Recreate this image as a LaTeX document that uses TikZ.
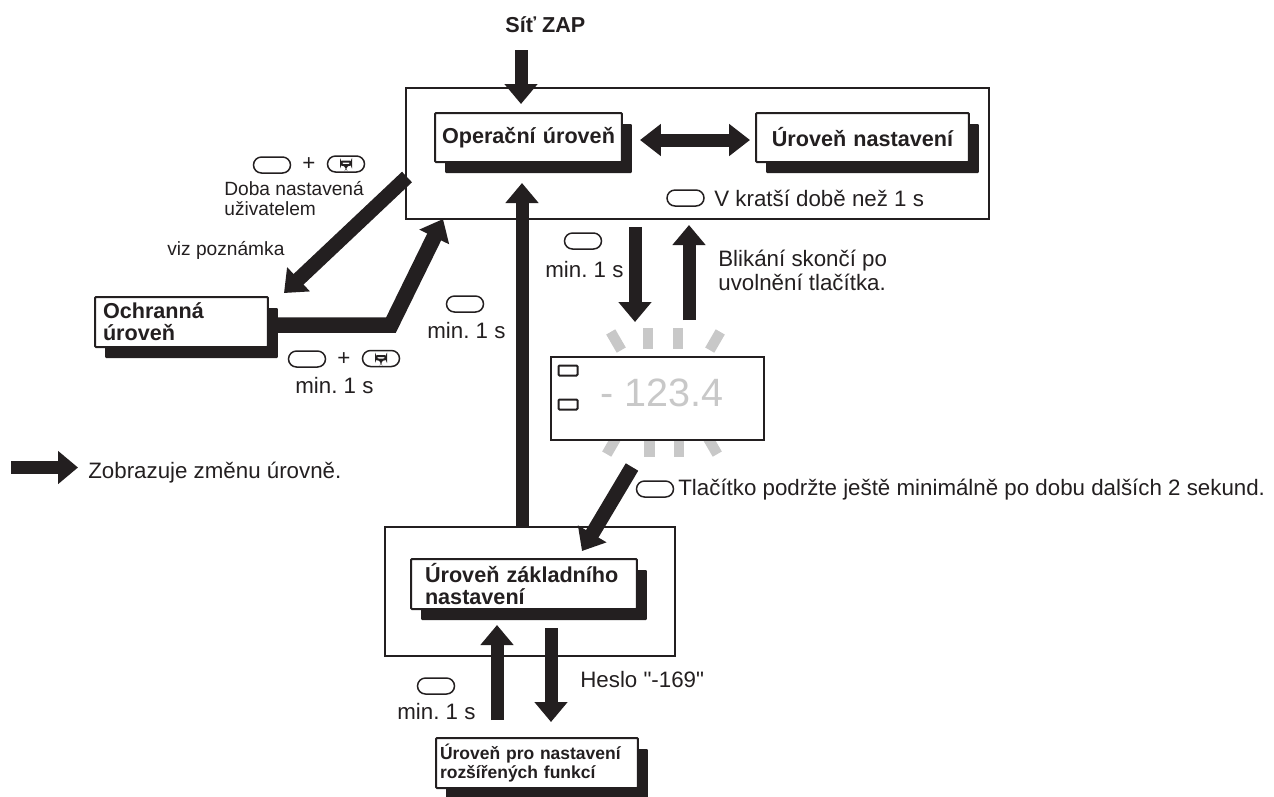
\documentclass[tikz,border=0pt]{standalone}
\usepackage{fontspec}
\setmainfont{Liberation Sans}
\newfontfamily\straightfont{Liberation Sans}
\usetikzlibrary{arrows.meta,shadows}
\definecolor{inkblack}{RGB}{35,31,32}
\definecolor{flashgray}{RGB}{200,200,200}
\tikzset{
    framebox/.style={draw=inkblack, line width=0.03cm, inner sep=0pt},
    levelbox/.style={draw=inkblack, fill=white, line width=0.04cm, rounded corners=0.02cm, inner xsep=0.1cm, inner ysep=0pt, align=left, text=inkblack, font=\fontsize{12.3}{12.4}\selectfont\bfseries, drop shadow={shadow xshift=0.2cm, shadow yshift=-0.22cm, fill=inkblack, opacity=1}},
    levelarrow/.style={draw=inkblack, line width=0.26cm, -{Triangle[length=0.4cm,width=0.64cm]}},
    bothwayarrow/.style={draw=inkblack, line width=0.26cm, {Triangle[length=0.42cm,width=0.62cm]}-{Triangle[length=0.42cm,width=0.62cm]}},
    notetext/.style={anchor=west, inner sep=0pt, align=left, text=inkblack, font=\fontsize{12.7}{14}\selectfont},
    btnkey/.style={draw=inkblack, line width=0.03cm, rounded corners=0.16cm, minimum width=0.74cm, minimum height=0.32cm, inner sep=0pt},
    loopkey/.style={btnkey, path picture={
        \draw[inkblack, line width=0.04cm, rounded corners=0.04cm, shift={(path picture bounding box.center)}] (-5,-2.5) rectangle (5,1);
        \fill[inkblack, shift={(path picture bounding box.center)}] (-3,0.5) -- (3,0.5) -- (0,5) -- cycle;}},
    flashmark/.style={fill=flashgray, minimum width=0.21cm, minimum height=0.42cm, inner sep=0pt},
    ledbox/.style={draw=inkblack, line width=0.04cm, rounded corners=0.02cm, minimum width=0.38cm, minimum height=0.2cm, inner sep=0pt}
}
\begin{document}
\frenchspacing
\begin{tikzpicture}[x=0.02cm, y=-0.02cm]
    \useasboundingbox (0,0) rectangle (1274,796);

    % frames
    \node[framebox, minimum width=11.66cm, minimum height=2.62cm] (frameTop) at (697.5,153.5) {};
    \node[framebox, line width=0.04cm, minimum width=5.8cm, minimum height=2.58cm] (frameBase) at (530,591.5) {};

    % levels
    \node[levelbox, text width=3.54cm, minimum height=0.98cm, align=center] (operLevel) at (528.5,137.5) {Operační úroveň};
    \node[levelbox, text width=4.06cm, minimum height=0.98cm, align=center] (setLevel) at (862.5,137.5) {Úroveň nastavení};
    \node[levelbox, inner xsep=0.16cm, text width=3.14cm, minimum height=1cm] (protLevel) at (181.5,322) {Ochranná\\úroveň};
    \node[levelbox, inner xsep=0.28cm, text width=3.96cm, minimum height=1cm] (baseLevel) at (524,584) {Úroveň základního\\nastavení};
    \node[levelbox, inner xsep=0.08cm, text width=3.88cm, minimum height=1cm, font=\fontsize{9.95}{10.4}\selectfont\bfseries] (extLevel) at (537,763) {Úroveň pro nastavení\\rozšířených funkcí};

    % display
    \node[flashmark, rotate=30] (flashA) at (616,341) {};
    \node[flashmark] (flashB) at (648,338) {};
    \node[flashmark] (flashC) at (678,338) {};
    \node[flashmark, rotate=-30] (flashD) at (715,341) {};
    \node[flashmark, rotate=-30] (flashE) at (612,445) {};
    \node[flashmark] (flashF) at (649.5,446) {};
    \node[flashmark] (flashG) at (679,446) {};
    \node[flashmark, rotate=30] (flashH) at (712,445) {};
    \node[draw=inkblack, fill=white, line width=0.04cm, minimum width=4.26cm, minimum height=1.66cm, inner sep=0pt] (display) at (657.5,398.5) {};
    \node[ledbox] (ledTop) at (568,370.5) {};
    \node[ledbox] (ledBottom) at (568,404.5) {};
    \node[notetext, text=flashgray, font=\fontsize{22.5}{24}\selectfont] (readout) at (600,393) {- 123.4};

    % connector ends
    \coordinate (powerStart) at (521,50);
    \coordinate (powerEnd) at (521,104);
    \coordinate (returnStart) at (522,527);
    \coordinate (returnEnd) at (522,183);
    \coordinate (protInStart) at (407,177);
    \coordinate (protInEnd) at (284,293);
    \coordinate (protOutBend) at (391,325);
    \coordinate (protOutEnd) at (443,219);
    \coordinate (holdStart) at (635,227);
    \coordinate (holdEnd) at (635,322);
    \coordinate (releaseStart) at (689,320);
    \coordinate (releaseEnd) at (689,225);
    \coordinate (baseInStart) at (632,467);
    \coordinate (baseInEnd) at (582,551);
    \coordinate (extUpStart) at (497,720);
    \coordinate (extUpEnd) at (497,625);
    \coordinate (extDownStart) at (551,628);
    \coordinate (extDownEnd) at (551,722);
    \coordinate (legendStart) at (11,467.5);
    \coordinate (legendEnd) at (78,467.5);

    % connectors
    \draw[levelarrow] (powerStart) -- (powerEnd);
    \draw[levelarrow] (returnStart) -- (returnEnd);
    \draw[bothwayarrow] ([xshift=0.34cm,yshift=-0.05cm]operLevel.east) -- ([xshift=-0.1cm,yshift=-0.05cm]setLevel.west);
    \draw[levelarrow, line width=0.29cm] (protInStart) -- (protInEnd);
    \draw[levelarrow, line width=0.31cm] ([yshift=-0.06cm]protLevel.east) -- (protOutBend) -- (protOutEnd);
    \draw[levelarrow] (holdStart) -- (holdEnd);
    \draw[levelarrow] (releaseStart) -- (releaseEnd);
    \draw[levelarrow, line width=0.29cm] (baseInStart) -- (baseInEnd);
    \draw[levelarrow] (extUpStart) -- (extUpEnd);
    \draw[levelarrow] (extDownStart) -- (extDownEnd);
    \draw[levelarrow] (legendStart) -- (legendEnd);

    % labels
    \node[notetext, font=\fontsize{12.3}{14}\selectfont\bfseries] (powerLabel) at (505,25) {Síť ZAP};
    \node[btnkey] (keyShort) at (685.5,198) {};
    \node[notetext] (shortLabel) at (714,198) {V kratší době než 1 s};

    \node[btnkey] (keyProtA) at (272,165) {};
    \node[notetext] (plusA) at (302,164) {+};
    \node[loopkey] (keyProtB) at (346,164) {};
    \node[notetext, font=\fontsize{10.9}{11}\selectfont] (userTimeLabel) at (224,198.5) {Doba nastavená\\uživatelem};
    \node[notetext, font=\fontsize{10.9}{11}\selectfont] (noteLabel) at (167,250) {viz poznámka};

    \node[btnkey] (keyProtC) at (307,359) {};
    \node[notetext] (plusB) at (337,359) {+};
    \node[loopkey] (keyProtD) at (381,358.5) {};
    \node[notetext] (protMinLabel) at (295,386) {min. 1 s};

    \node[btnkey] (keyReturn) at (465,304) {};
    \node[notetext] (returnMinLabel) at (427,331) {min. 1 s};
    \node[btnkey] (keyHold) at (583,241) {};
    \node[notetext] (holdMinLabel) at (545,270) {min. 1 s};
    \node[notetext] (releaseLabel) at (718,270.5) {Blikání skončí po\\uvolnění tlačítka.};

    \node[notetext] (legendLabel) at (88,473) {Zobrazuje změnu úrovně.};
    \node[btnkey] (keyExtra) at (655,489) {};
    \node[notetext] (extraLabel) at (678,490) {Tlačítko podržte ještě minimálně po dobu dalších 2 sekund.};
    \node[btnkey] (keyExt) at (436,686) {};
    \node[notetext] (extMinLabel) at (397,712) {min. 1 s};
    \node[notetext] (passLabel) at (580,680) {\straightfont Heslo "-169"};
\end{tikzpicture}
\end{document}
